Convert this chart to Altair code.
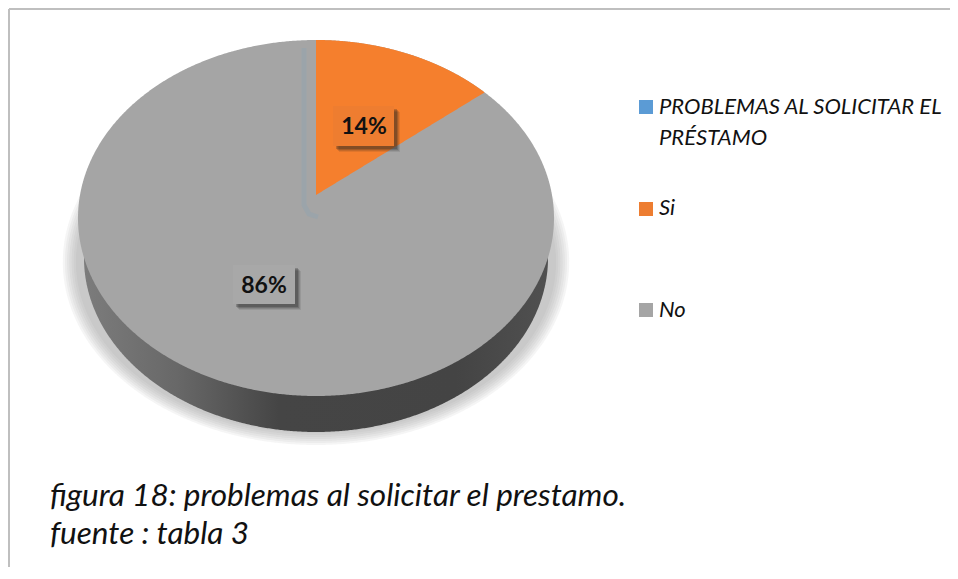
import numpy as np
import pandas as pd
import altair as alt

# Data
categories = ["Si", "No"]
shares = [14, 86]
slice_labels = ["14%", "86%"]
legend_lines = ["PROBLEMAS AL SOLICITAR EL", "PRÉSTAMO", "Si", "No"]
legend_names = ["PROBLEMAS AL SOLICITAR EL PRÉSTAMO", "Si", "No"]
legend_colors = ["#5b9bd5", "#ed7d31", "#a5a5a5"]
caption_lines = ["figura 18: problemas al solicitar el prestamo.", "fuente : tabla 3"]

# Layout (page pixels)
W, H = 942, 559
CX, FACE_CY, RX, RY = 316, 218, 238, 178
SIDE_CY, SIDE_RX, SIDE_RY = 258, 232, 174
TIP_Y = 195
FORESHORTEN = 0.895

X = alt.Scale(domain=[8, 8 + W], range=[0, W], nice=False, zero=False)
Y = alt.Scale(domain=[8, 8 + H], range=[0, H], nice=False, zero=False)
ex = alt.X("x:Q", scale=X, axis=None)
ey = alt.Y("y:Q", scale=Y, axis=None)


def ellipse(cx, cy, rx, ry, clip=None, n=500):
    t = np.linspace(-np.pi / 2, np.pi / 2, n)
    xs = cx + rx * np.sin(t)
    half = ry * np.cos(t)
    lo = cy + half
    if clip is not None:
        lo = np.minimum(lo, clip)
    return pd.DataFrame({"x": xs, "y": cy - half, "y2": lo})


def area(df, **kw):
    return alt.Chart(df).mark_area(**kw).encode(x=ex, y=ey, y2="y2:Q")


layers = []

# soft glow under the disc
for k in range(7):
    layers.append(area(ellipse(CX, 262, 240 + k * 2.2, 171 + k * 2, clip=445),
                       color="#9a9a9a", opacity=0.10))

# side wall
side = alt.LinearGradient(
    gradient="linear", x1=0, x2=1, y1=0, y2=0,
    stops=[alt.GradientStop(offset=0, color="#7c7c7c"),
           alt.GradientStop(offset=0.2, color="#686868"),
           alt.GradientStop(offset=0.42, color="#454545"),
           alt.GradientStop(offset=0.8, color="#444444"),
           alt.GradientStop(offset=1, color="#505050")])
layers.append(area(ellipse(CX, SIDE_CY, SIDE_RX, SIDE_RY), color=side))

# top face (No)
layers.append(area(ellipse(CX, FACE_CY, RX, RY), color="#a5a5a5"))

# bluish seam left by the zero-size slice
seam = pd.DataFrame({"x": [304, 304, 309, 318], "y": [48, 205, 214, 217], "o": [0, 1, 2, 3]})
layers.append(alt.Chart(seam).mark_line(color="#98a4ab", strokeWidth=5, opacity=0.8).encode(
    x=ex, y=ey, order="o:Q"))

# Si wedge
theta = np.deg2rad(shares[0] / sum(shares) * 360 * FORESHORTEN)
end_x = CX + RX * np.sin(theta)
end_y = FACE_CY - RY * np.cos(theta)
wx = np.linspace(CX, end_x, 200)
wy = FACE_CY - RY * np.sqrt(1 - ((wx - CX) / RX) ** 2)
wy2 = TIP_Y + (end_y - TIP_Y) * (wx - CX) / (end_x - CX)
wedge = pd.DataFrame({"x": wx, "y": wy, "y2": wy2})
layers.append(area(wedge, color="#f57f2d"))

# data labels with shadow
boxes = pd.DataFrame({
    "x": [333, 233], "x2": [394, 295], "y": [106, 265], "y2": [146, 304],
    "label": slice_labels, "fill": ["#ee7d30", "#a8a8a8"],
    "tx": [364, 264], "ty": [134, 293],
})
for off, op in [(6, 0.10), (5, 0.14), (4, 0.2), (3, 0.26)]:
    s = boxes.assign(x=boxes.x + off, x2=boxes.x2 + off, y=boxes.y + off, y2=boxes.y2 + off)
    layers.append(alt.Chart(s).mark_rect(color="#222222", opacity=op).encode(
        x=ex, x2="x2:Q", y=ey, y2="y2:Q"))
layers.append(alt.Chart(boxes).mark_rect().encode(
    x=ex, x2="x2:Q", y=ey, y2="y2:Q",
    color=alt.Color("fill:N", scale=None)))
layers.append(alt.Chart(boxes).mark_text(
    font="Lato", fontSize=23, fontWeight="bold", color="#111111",
    align="center", baseline="alphabetic").encode(
    x=alt.X("tx:Q", scale=X, axis=None), y=alt.Y("ty:Q", scale=Y, axis=None), text="label:N"))

# legend
swatch = pd.DataFrame({"x": [639] * 3, "x2": [653] * 3, "y": [100, 202, 303], "y2": [114, 216, 317],
                       "name": legend_names, "c": legend_colors})
layers.append(alt.Chart(swatch).mark_rect().encode(
    x=ex, x2="x2:Q", y=ey, y2="y2:Q", color=alt.Color("c:N", scale=None)))
leg_text = pd.DataFrame({"x": [659] * 4, "y": [114, 145, 215, 317], "t": legend_lines})
layers.append(alt.Chart(leg_text).mark_text(
    font="Lato", fontSize=22, fontStyle="italic", color="#111111",
    align="left", baseline="alphabetic").encode(x=ex, y=ey, text="t:N"))

# caption
cap = pd.DataFrame({"x": [50, 50], "y": [506, 544], "t": caption_lines})
layers.append(alt.Chart(cap).mark_text(
    font="Lato", fontSize=31.5, fontStyle="italic", color="#111111",
    align="left", baseline="alphabetic").encode(x=ex, y=ey, text="t:N"))

# frame
frame = pd.DataFrame({"x": [9, 9], "x2": [9, 8 + W], "y": [9, 9], "y2": [8 + H, 9]})
layers.append(alt.Chart(frame).mark_rule(color="#bfbfbf", strokeWidth=2).encode(
    x=ex, x2="x2:Q", y=ey, y2="y2:Q"))

chart = alt.layer(*layers).properties(
    width=W, height=H, padding=0, autosize=alt.AutoSizeParams(type="none"),
    background="white"
).configure_view(stroke=None)

chart.save("out.html", embed_options={"renderer": "svg", "actions": False})
